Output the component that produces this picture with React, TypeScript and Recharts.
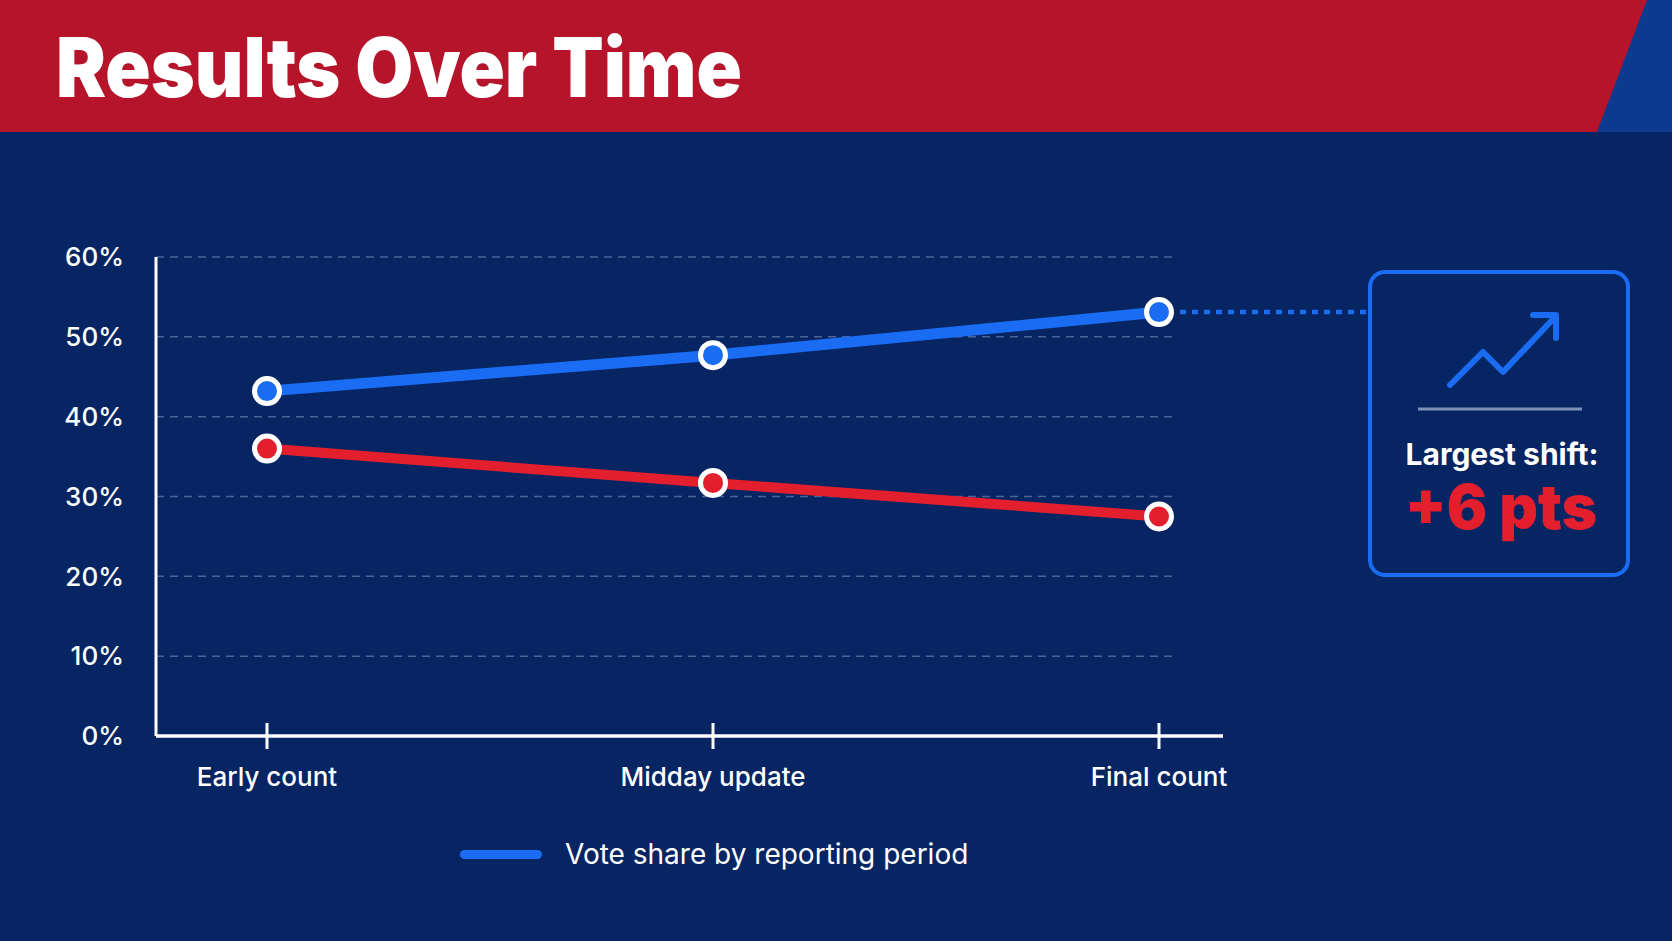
import React from 'react';
import { LineChart, Line, XAxis, YAxis, CartesianGrid, Legend } from 'recharts';

// values (vote share, %)
const periods = ['Early count', 'Midday update', 'Final count'];
const blueShare = [43.2, 47.7, 53.1];
const redShare = [36.0, 31.7, 27.5];
const yTicks = [0, 10, 20, 30, 40, 50, 60];
const legendLabel = 'Vote share by reporting period';

const data = periods.map((period, i) => ({
  period,
  blue: blueShare[i],
  red: redShare[i],
}));

const W = 1672;
const H = 941;
const NAVY = '#062562';
const RED_BAND = '#b5142a';
const BLUE = '#1a6cf2';
const RED = '#e31f2e';
const GRID = '#4a6598';
const FONT = 'Inter, "Noto Sans", sans-serif';
const GRID_END = 1173;
const BOX = { x: 1370, y: 272, w: 258, h: 303 };

const BlueDot = (props: any) => {
  const { cx, cy, index } = props;
  const last = index === data.length - 1;
  return (
    <g key={`blue-dot-${index}`}>
      {last && (
        <line
          x1={cx + 21}
          y1={cy}
          x2={BOX.x}
          y2={cy}
          stroke={BLUE}
          strokeWidth={4.5}
          strokeDasharray="6 6"
        />
      )}
      <circle cx={cx} cy={cy} r={12.5} fill={BLUE} stroke="#fff" strokeWidth={5} />
    </g>
  );
};

const RedDot = (props: any) => {
  const { cx, cy, index } = props;
  return <circle key={`red-dot-${index}`} cx={cx} cy={cy} r={12.5} fill={RED} stroke="#fff" strokeWidth={5} />;
};

const PeriodTick = (props: any) => {
  const { x, y, payload } = props;
  return (
    <g>
      <line x1={x} y1={y - 13} x2={x} y2={y + 13} stroke="#fff" strokeWidth={3} />
      <text x={x} y={y + 50} textAnchor="middle" fill="#fff" fontSize={26} fontWeight={500} fontFamily={FONT}>
        {payload.value}
      </text>
    </g>
  );
};

// only the blue series carries a legend entry
const renderLegend = (props: any) => (
  <div style={{ display: 'flex', alignItems: 'center' }}>
    {(props.payload || [])
      .filter((entry: any) => entry.type !== 'none' && entry.dataKey === 'blue')
      .map((entry: any) => (
        <div key={entry.value} style={{ display: 'flex', alignItems: 'center' }}>
          <span
            style={{
              display: 'inline-block',
              width: 82,
              height: 9,
              borderRadius: 5,
              background: entry.color,
              marginRight: 23,
            }}
          />
          <span style={{ color: '#fff', fontSize: 28, fontFamily: FONT, lineHeight: '34px' }}>{entry.value}</span>
        </div>
      ))}
  </div>
);

export default function App() {
  return (
    <div style={{ position: 'absolute', left: 0, top: 0, width: W, height: H, background: NAVY, overflow: 'hidden' }}>
      <svg width={W} height={H} style={{ position: 'absolute', left: 0, top: 0 }}>
        <rect x={0} y={0} width={W} height={132} fill={RED_BAND} />
        <polygon points={`1647,0 ${W},0 ${W},132 1597,132`} fill="#0b3a8e" />
        <text
          x={56}
          y={97}
          fill="#fff"
          fontSize={82}
          fontWeight={900}
          fontFamily={FONT}
          textLength={686}
          lengthAdjust="spacingAndGlyphs"
        >
          Results Over Time
        </text>

        <rect
          x={BOX.x}
          y={BOX.y}
          width={BOX.w}
          height={BOX.h}
          rx={15}
          fill="none"
          stroke={BLUE}
          strokeWidth={4}
        />
        <polyline
          points="1450,385 1483,352 1503,372 1555,317"
          fill="none"
          stroke={BLUE}
          strokeWidth={6}
          strokeLinecap="round"
          strokeLinejoin="round"
        />
        <polyline
          points="1533,315 1556,315 1556,338"
          fill="none"
          stroke={BLUE}
          strokeWidth={6}
          strokeLinecap="round"
          strokeLinejoin="round"
        />
        <line x1={1418} y1={409} x2={1582} y2={409} stroke="#7d90b5" strokeWidth={3} />
        <text x={1502} y={465} textAnchor="middle" fill="#fff" fontSize={30} fontWeight={700} fontFamily={FONT}>
          Largest shift:
        </text>
        <text
          x={1501}
          y={529}
          textAnchor="middle"
          fill={RED}
          fontSize={62}
          fontWeight={900}
          fontFamily={FONT}
          textLength={192}
          lengthAdjust="spacingAndGlyphs"
        >
          +6 pts
        </text>
      </svg>

      <div style={{ position: 'absolute', left: 0, top: 0 }}>
        <LineChart width={W} height={H} data={data} margin={{ top: 257, right: 449, bottom: 125, left: 96 }}>
          <CartesianGrid
            vertical={false}
            horizontal={(p: any) => (
              <line
                key={`grid-${p.index}`}
                x1={p.x1}
                y1={p.y1}
                x2={GRID_END}
                y2={p.y2}
                stroke={GRID}
                strokeWidth={1.5}
                strokeDasharray="8 6"
              />
            )}
          />
          <XAxis
            dataKey="period"
            height={80}
            padding={{ left: 111, right: 64 }}
            axisLine={{ stroke: '#fff', strokeWidth: 3.5 }}
            tickLine={false}
            tickSize={0}
            tickMargin={0}
            tick={<PeriodTick />}
            interval={0}
          />
          <YAxis
            width={60}
            domain={[0, 60]}
            ticks={yTicks}
            tickFormatter={(v: number) => `${v}%`}
            axisLine={{ stroke: '#fff', strokeWidth: 3 }}
            tickLine={false}
            tickSize={0}
            tickMargin={32}
            tick={{ fill: '#fff', fontSize: 26, fontWeight: 500, fontFamily: FONT }}
          />
          <Legend
            layout="horizontal"
            verticalAlign="middle"
            align="center"
            content={renderLegend}
            wrapperStyle={{ left: 460, top: 837, width: 'auto' }}
          />
          <Line
            dataKey="red"
            stroke={RED}
            strokeWidth={10}
            dot={(p: any) => <RedDot {...p} key={`r-${p.index}`} />}
            activeDot={false}
            legendType="none"
            isAnimationActive={false}
          />
          <Line
            dataKey="blue"
            name={legendLabel}
            stroke={BLUE}
            strokeWidth={11}
            dot={(p: any) => <BlueDot {...p} key={`b-${p.index}`} />}
            activeDot={false}
            isAnimationActive={false}
          />
        </LineChart>
      </div>
    </div>
  );
}
